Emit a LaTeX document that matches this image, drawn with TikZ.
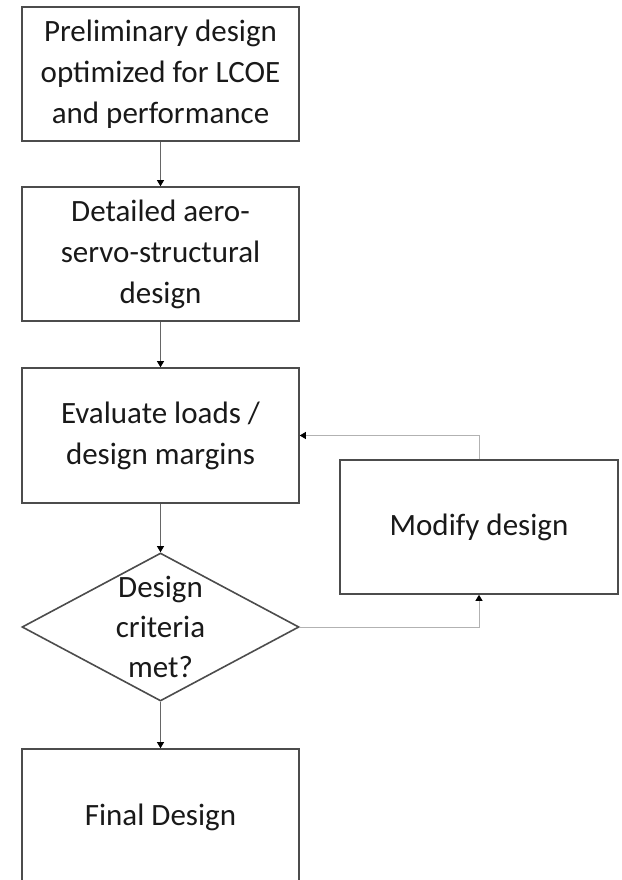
\documentclass[tikz,border=0pt]{standalone}
\usepackage{fontspec}
\setmainfont{Carlito}
\usetikzlibrary{shapes.geometric,arrows.meta}

\begin{document}
\begin{tikzpicture}[x=1pt,y=1pt,yscale=-1,
  box/.style={draw=black!70,line width=1.6pt,minimum width=277pt,minimum height=134pt,
    align=center,inner sep=0pt,text=black!90,font=\fontsize{31}{41}\selectfont},
  link/.style={draw=black!60,line width=0.9pt,-{Triangle[length=6pt,width=7pt,color=black]}},
  back/.style={link,draw=black!30}]
\useasboundingbox (0,0) rectangle (621,880);
\clip (0,0) rectangle (621,880);

%Shape: Rectangle [id:prelim]
\node [box] (prelim) at (160.5,74) {Preliminary design\\optimized for LCOE\\and performance};
%Shape: Rectangle [id:detail]
\node [box] (detail) at (160.5,254) {Detailed aero-\\servo-structural\\design};
%Shape: Rectangle [id:evalu]
\node [box,minimum height=135pt] (evalu) at (160.5,435.5) {Evaluate loads /\\design margins};
%Shape: Diamond [id:crit]
\node [diamond,draw=black!70,line width=1.6pt,minimum width=277pt,minimum height=148pt,inner sep=0pt] (crit) at (160.5,627) {};
% Text Node
\node [align=center,inner sep=0pt,text=black!90,font=\fontsize{31}{40}\selectfont] (crittext) at (crit.center) {Design\\criteria\\met?};
%Shape: Rectangle [id:modify]
\node [box,minimum width=278pt] (modify) at (479,527) {Modify design};
%Shape: Rectangle [id:final]
\node [box,minimum height=136pt] (final) at (160.5,817) {Final Design};

%Straight Lines
\draw [link] (prelim) -- (detail);
\draw [link] (detail) -- (evalu);
\draw [link] (evalu) -- (crit);
\draw [link] (crit) -- (final);
\draw [back] (crit.east) -| (modify.south);
\draw [back] (modify.north) |- (evalu.east);

\end{tikzpicture}
\end{document}
